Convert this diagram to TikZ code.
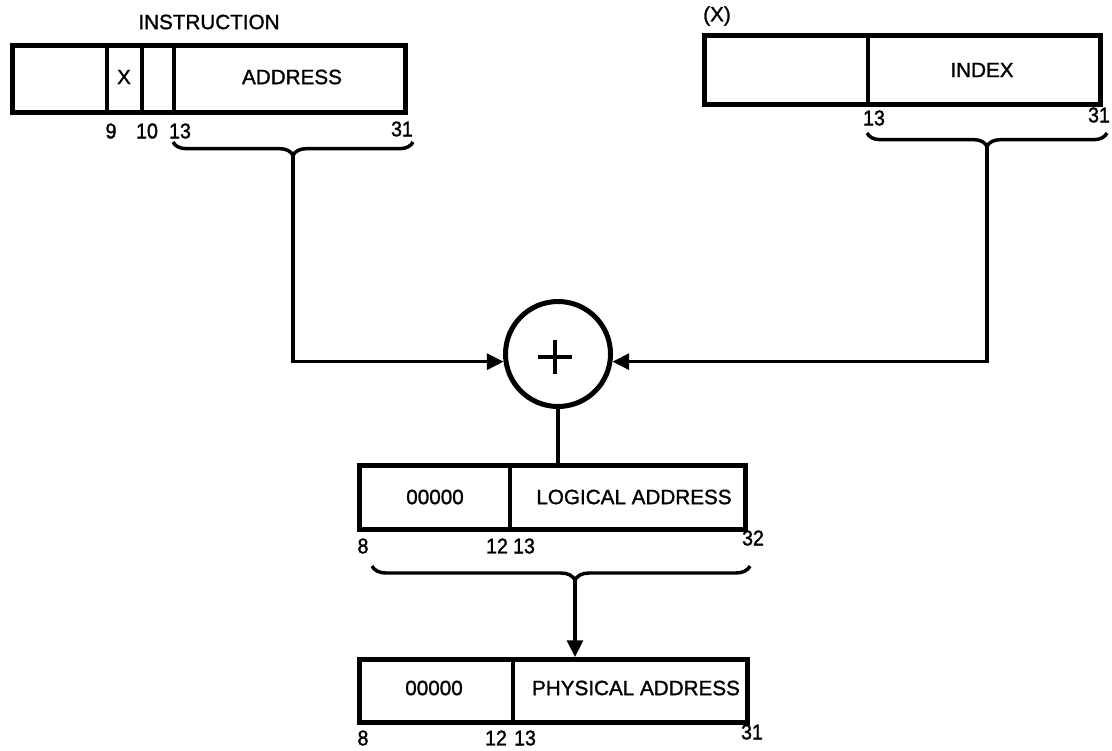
\documentclass[tikz,border=0pt]{standalone}
\usepackage{fontspec}
\setmainfont{Liberation Sans}[FakeBold=1.3]
\newfontfamily\numfont{Liberation Sans}[FakeBold=1.5, FakeStretch=0.92]
\usetikzlibrary{arrows.meta,decorations.pathreplacing,calc}
\begin{document}
\begin{tikzpicture}[x=0.75pt,y=-0.75pt,
  reg/.style={draw, line width=3.75pt, inner sep=0pt, rectangle},
  div/.style={line width=2.3pt},
  lbl/.style={font=\fontsize{15.5}{17}\selectfont, inner sep=0pt},
  num/.style={font=\numfont\fontsize{16}{18}\selectfont, inner sep=0pt},
  conn/.style={line width=2.3pt},
  arr/.style={conn, -{Triangle[length=12.5pt,width=12pt]}},
  brc/.style={line width=2.6pt, decorate, decoration={brace, mirror, amplitude=10pt}},
]
\useasboundingbox (0,0) rectangle (1112,750);

% instruction register
\node[reg, minimum width=393*0.75pt, minimum height=67*0.75pt] (instr) at (209,79) {};
\draw[div] (instr.north -| 107,0) -- (instr.south -| 107,0);
\draw[div] (instr.north -| 142,0) -- (instr.south -| 142,0);
\draw[div] (instr.north -| 174,0) -- (instr.south -| 174,0);
\node[lbl] (instrT) at (209,22) {INSTRUCTION};
\node[lbl] (xf) at (124,77) {X};
\node[lbl] (addr) at (292,77) {ADDRESS};
\node[num] (n9) at (111,131) {9};
\node[num] (n10) at (147,131) {10};
\node[num] (n13a) at (180,131) {13};
\node[num] (n31a) at (402,129) {31};
\draw[brc] (173,142) -- (413,142);
\coordinate (ibt) at (293,155);

% index register
\node[reg, minimum width=396*0.75pt, minimum height=69*0.75pt] (idx) at (902.5,70) {};
\draw[div] (idx.north -| 868,0) -- (idx.south -| 868,0);
\node[lbl] (xT) at (717,16) {(X)};
\node[lbl] (idxT) at (982,70) {INDEX};
\node[num] (n13b) at (874,118) {13};
\node[num] (n31b) at (1099,115) {31};
\draw[brc] (867,133) -- (1107,133);
\coordinate (xbt) at (987,146);

% adder
\node[draw, circle, line width=3.75pt, minimum size=105*0.75pt, inner sep=0pt] (sum) at (558,354) {};
\draw[line width=2.4pt] ($(sum.center)+(-3,3)+(-17,0)$) -- ($(sum.center)+(-3,3)+(17,0)$);
\draw[line width=2.4pt] ($(sum.center)+(-3,3)+(0,-17)$) -- ($(sum.center)+(-3,3)+(0,17)$);

% logical address
\node[reg, minimum width=386*0.75pt, minimum height=64*0.75pt] (log) at (552.5,497.5) {};
\draw[div] (log.north -| 510,0) -- (log.south -| 510,0);
\node[lbl] (logZ) at (435,497) {00000};
\node[lbl] (logT) at (634,497) {LOGICAL ADDRESS};
\node[num] (n8a) at (363,546) {8};
\node[num] (n12a) at (497,546) {12};
\node[num] (n13c) at (524,546) {13};
\node[num] (n32) at (753,538) {32};
\draw[brc, decoration={brace, mirror, amplitude=10.5pt, aspect=0.537}] (372,566) -- (750,566);
\coordinate (lbt) at (575,580);

% physical address
\node[reg, minimum width=388*0.75pt, minimum height=63*0.75pt] (phys) at (553.5,691) {};
\draw[div] (phys.north -| 513,0) -- (phys.south -| 513,0);
\node[lbl] (phyZ) at (434,688) {00000};
\node[lbl] (phyT) at (636,688) {PHYSICAL ADDRESS};
\node[num] (n8b) at (363,738) {8};
\node[num] (n12b) at (496,738) {12};
\node[num] (n13d) at (525,738) {13};
\node[num] (n31c) at (752,732) {31};

% connectors
\draw[arr] (ibt) |- (sum.188);
\draw[arr] (xbt) |- (sum.-8);
\draw[conn] (sum.south) -- (sum.south |- log.north);
\draw[arr] (lbt) -- (lbt |- phys.north);
\end{tikzpicture}
\end{document}
